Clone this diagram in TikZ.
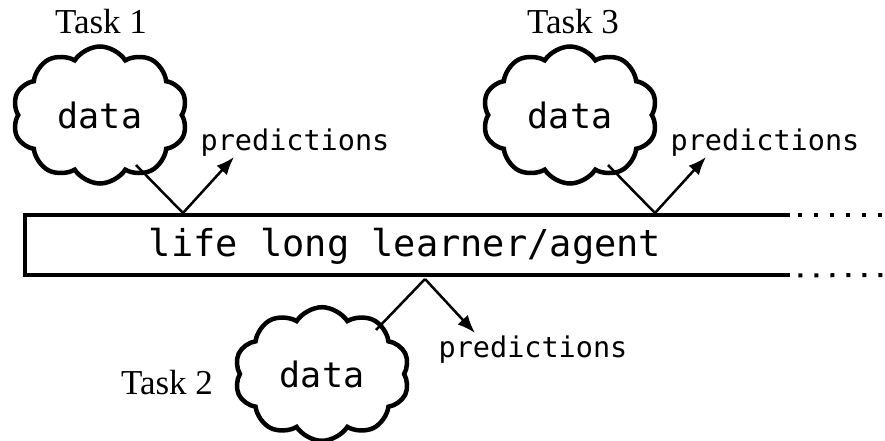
\documentclass[tikz,border=0pt]{standalone}
\usepackage{fontspec}
\setmainfont{Liberation Serif}
\setmonofont{DejaVu Sans Mono}
\usetikzlibrary{shapes.symbols,arrows.meta}
\begin{document}
\begin{tikzpicture}[x=1pt,y=-1pt,
  datacloud/.style={cloud, draw, line width=4.5pt, cloud puffs=10, cloud puff arc=115,
    minimum width=175pt, minimum height=137pt, inner sep=0pt, font=\ttfamily\fontsize{35}{35}\selectfont},
  tasklabel/.style={font=\fontsize{35}{35}\selectfont, inner sep=0pt},
  predlabel/.style={font=\ttfamily\fontsize{28.5}{28.5}\selectfont, inner sep=0pt},
  flow/.style={line width=2.5pt},
  flowarrow/.style={line width=2.5pt, -{Latex[length=18pt,width=14pt]}},
  border/.style={line width=4pt},
  dots/.style={line width=4pt, dash pattern=on 4pt off 12pt}]
\useasboundingbox (0,0) rectangle (885,441);
% learner box
\node[minimum width=765pt, minimum height=60pt, inner sep=0pt, anchor=north west] (learner) at (25,215) {};
\node[font=\ttfamily\fontsize{37}{37}\selectfont, inner sep=0pt] (ltext) at (405,246) {life long learner/agent};
\draw[border] (learner.north east) -- (learner.north west) -- (learner.south west) -- (learner.south east);
\coordinate (dt) at (885,215);
\coordinate (db) at (885,275);
\draw[dots] ([xshift=8pt]learner.north east) -- (dt);
\draw[dots] ([xshift=8pt]learner.south east) -- (db);
% Task 1
\node[datacloud] (c1) at (100,115) {data};
\node[tasklabel] (t1) at (101,22) {Task 1};
\node[predlabel] (p1) at (295,143) {predictions};
\coordinate (s1) at (136,165);
\coordinate (j1) at (183,213);
\coordinate (e1) at (234,157);
\draw[flow] (s1) -- (j1);
\draw[flowarrow] (j1) -- (e1);
% Task 3
\node[datacloud] (c3) at (570,115) {data};
\node[tasklabel] (t3) at (573,22) {Task 3};
\node[predlabel] (p3) at (765,143) {predictions};
\coordinate (s3) at (608,165);
\coordinate (j3) at (655,213);
\coordinate (e3) at (706,157);
\draw[flow] (s3) -- (j3);
\draw[flowarrow] (j3) -- (e3);
% Task 2
\node[datacloud, minimum height=127pt] (c2) at (322,374) {data};
\node[tasklabel] (t2) at (167,383) {Task 2};
\node[predlabel] (p2) at (533,350) {predictions};
\coordinate (s2) at (376,330);
\coordinate (j2) at (425,279);
\coordinate (e2) at (475,333);
\draw[flow] (s2) -- (j2);
\draw[flowarrow] (j2) -- (e2);
\end{tikzpicture}
\end{document}
